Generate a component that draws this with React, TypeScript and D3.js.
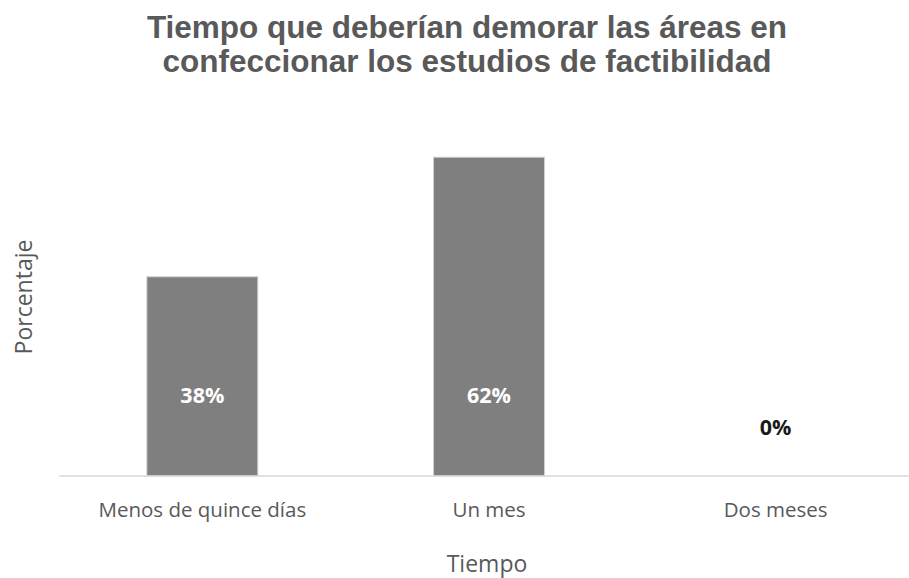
import React from "react";
import * as d3 from "d3";

const categories = ["Menos de quince días", "Un mes", "Dos meses"];
const values = [38.46, 61.54, 0];
const valueLabels = ["38%", "62%", "0%"];
const titleLines = [
  "Tiempo que deberían demorar las áreas en",
  "confeccionar los estudios de factibilidad",
];
const xTitle = "Tiempo";
const yTitle = "Porcentaje";

const W = 909;
const H = 578;

export default function App() {
  const x = d3
    .scaleBand<string>()
    .domain(categories)
    .range([59, 919])
    .paddingInner(0.613)
    .paddingOuter(0.3065);
  const y = d3.scaleLinear().domain([0, 70]).range([476, 113.4]);
  const labelFont = "'Open Sans', 'DejaVu Sans', sans-serif";

  return (
    <svg
      width={W}
      height={H}
      viewBox={`0 0 ${W} ${H}`}
      style={{ position: "absolute", left: 0, top: 0, background: "#fff" }}
    >
      <rect x={0} y={0} width={W} height={H} fill="#fff" />
      <g
        fontFamily="'Liberation Sans', Arial, sans-serif"
        fontWeight="bold"
        fontSize={31.5}
        fill="#595959"
        textAnchor="middle"
      >
        {titleLines.map((t, i) => (
          <text key={i} x={467} y={38 + i * 34}>
            {t}
          </text>
        ))}
      </g>
      {categories.map((c, i) => (
        <rect
          key={c}
          x={x(c)!}
          y={y(values[i])}
          width={x.bandwidth()}
          height={y(0) - y(values[i])}
          fill="#7f7f7f"
          stroke="#d0d0d0"
          strokeWidth={1}
        />
      ))}
      <line x1={59} x2={919} y1={y(0)} y2={y(0)} stroke="#d9d9d9" strokeWidth={1.5} />
      {categories.map((c, i) => (
        <text
          key={"v" + c}
          x={x(c)! + x.bandwidth() / 2}
          y={values[i] > 0 ? y(0) - 73 : y(0) - 41}
          textAnchor="middle"
          fontFamily={labelFont}
          fontWeight="bold"
          fontSize={21.5}
          fill={values[i] > 0 ? "#ffffff" : "#1a1a1a"}
        >
          {valueLabels[i]}
        </text>
      ))}
      {categories.map((c) => (
        <text
          key={"c" + c}
          x={x(c)! + x.bandwidth() / 2}
          y={517}
          textAnchor="middle"
          fontFamily={labelFont}
          fontSize={20.5}
          fill="#595959"
        >
          {c}
        </text>
      ))}
      <text
        x={487}
        y={572}
        textAnchor="middle"
        fontFamily={labelFont}
        fontSize={23}
        fill="#595959"
      >
        {xTitle}
      </text>
      <text
        transform={`translate(32, 297) rotate(-90)`}
        textAnchor="middle"
        fontFamily={labelFont}
        fontSize={23}
        fill="#595959"
      >
        {yTitle}
      </text>
    </svg>
  );
}
